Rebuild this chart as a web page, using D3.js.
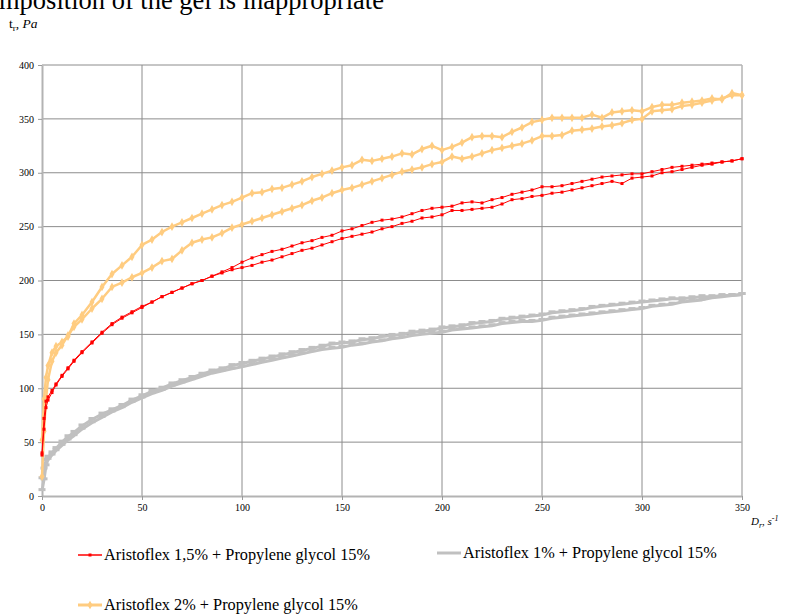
<!DOCTYPE html>
<html>
<head>
<meta charset="utf-8">
<script src="https://cdn.jsdelivr.net/npm/d3@7"></script>
<style>
  body { margin: 0; background: #fff; }
  svg { display: block; font-family: "Liberation Serif", "Times New Roman", serif; }
</style>
</head>
<body>
<svg id="chart" width="790" height="614"></svg>
<script>
// shear rate D_r, s^-1 (shared by every curve)
const shearRate = [0, 1, 2, 3, 5, 7, 10, 13, 16, 20, 25, 30, 35, 40, 45, 50, 55, 60, 65, 70, 75, 80, 85, 90, 95, 100,
  105, 110, 115, 120, 125, 130, 135, 140, 145, 150, 155, 160, 165, 170, 175, 180, 185, 190, 195, 200,
  205, 210, 215, 220, 225, 230, 235, 240, 245, 250, 255, 260, 265, 270, 275, 280, 285, 290, 295, 300,
  305, 310, 315, 320, 325, 330, 335, 340, 345, 350];

// shear stress, Pa — each series is a loop (upper branch + lower branch)
const red15Upper = [40, 72, 88, 92, 98, 104, 112, 119, 126, 134, 143, 152, 160, 166, 171, 176, 180, 185, 189, 193, 197, 200, 204, 208, 212, 217,
  221, 224, 227, 229, 232, 235, 237, 240, 242, 246, 248, 251, 254, 256, 257, 259, 262, 265, 267, 268,
  269, 272, 273, 272, 275, 277, 280, 282, 284, 287, 287, 288, 290, 292, 294, 296, 297, 298, 299, 299,
  301, 303, 305, 306, 307, 308, 309, 310, 311, 313];
const red15Lower = [38, 62, 82, 89, 96, 103, 111, 118, 125, 133, 142, 151, 159, 165, 170, 175, 180, 185, 189, 193, 197, 200, 204, 207, 210, 212,
  214, 217, 219, 222, 225, 228, 230, 233, 236, 239, 241, 243, 245, 248, 250, 253, 255, 258, 259, 261,
  265, 265, 266, 267, 268, 271, 275, 276, 278, 279, 281, 282, 284, 286, 288, 290, 292, 290, 295, 296,
  297, 300, 301, 303, 305, 307, 308, 310, 311, 313];

const gray1Upper = [16, 25, 33, 36, 40, 44, 50, 55, 59, 65, 71, 76, 80, 84, 89, 93, 97, 100, 104, 107, 110, 113, 116, 118, 121, 123,
  125, 127, 129, 131, 133, 135, 137, 139, 141, 142, 143, 145, 146, 148, 149, 150, 152, 153, 154, 156,
  157, 158, 160, 161, 162, 164, 165, 166, 167, 168, 170, 171, 172, 173, 175, 176, 177, 178, 179, 180,
  181, 182, 183, 183, 184, 185, 185, 186, 186, 187];
const gray1Lower = [5, 15, 28, 34, 38, 42, 47, 52, 56, 62, 68, 73, 78, 82, 87, 91, 95, 98, 102, 105, 108, 111, 114, 116, 118, 120,
  122, 124, 126, 128, 130, 132, 134, 136, 137, 138, 140, 141, 143, 144, 146, 147, 149, 150, 151, 152,
  154, 155, 156, 157, 158, 160, 161, 162, 162, 163, 165, 166, 167, 168, 169, 170, 171, 172, 173, 174,
  176, 177, 178, 180, 181, 182, 184, 185, 186, 187];

const orange2Upper = [52, 90, 110, 121, 133, 139, 143, 148, 160, 168, 180, 194, 206, 214, 222, 233, 238, 245, 250, 254, 258, 262, 266, 270, 273, 277,
  281, 282, 285, 286, 289, 292, 296, 299, 302, 305, 307, 312, 311, 313, 315, 318, 317, 322, 325, 321,
  324, 328, 333, 334, 334, 333, 338, 342, 347, 349, 351, 351, 351, 351, 354, 351, 356, 357, 358, 357,
  361, 363, 363, 365, 366, 367, 369, 368, 374, 372];
const orange2Lower = [18, 60, 90, 108, 125, 133, 140, 149, 157, 164, 174, 183, 194, 198, 203, 207, 212, 218, 220, 228, 235, 238, 240, 244, 249, 252,
  255, 258, 261, 264, 267, 270, 274, 277, 281, 284, 286, 289, 292, 295, 298, 301, 303, 305, 308, 310,
  315, 313, 315, 318, 321, 323, 325, 327, 330, 334, 334, 335, 339, 340, 341, 343, 344, 346, 349, 350,
  357, 358, 359, 362, 363, 365, 367, 369, 372, 372];

const xTicks = [0, 50, 100, 150, 200, 250, 300, 350];
const yTicks = [0, 50, 100, 150, 200, 250, 300, 350, 400];

const seriesNames = [
  "Aristoflex 1,5% + Propylene glycol 15%",
  "Aristoflex 1% + Propylene glycol 15%",
  "Aristoflex 2% + Propylene glycol 15%"
];

const svg = d3.select("#chart");
const margin = { left: 42, top: 65, right: 48, bottom: 118 };
const width = 790 - margin.left - margin.right;   // 700
const height = 614 - margin.top - margin.bottom;  // 431

const x = d3.scaleLinear().domain([0, 350]).range([0, width]);
const y = d3.scaleLinear().domain([0, 400]).range([height, 0]);

// title fragment cut off at the top
svg.append("text")
  .attr("x", -1).attr("y", 9)
  .style("font-size", "26.5px")
  .attr("fill", "#000")
  .text("mposition of the gel is inappropriate");

// y axis label
const yl = svg.append("text").attr("x", 9).attr("y", 27.5).style("font-size", "13.5px");
yl.append("tspan").text("t");
yl.append("tspan").attr("dy", 3).style("font-size", "9px").text("r");
yl.append("tspan").attr("dy", -3).text(", ");
yl.append("tspan").style("font-style", "italic").text("Pa");

const g = svg.append("g").attr("transform", `translate(${margin.left},${margin.top})`);

// grid
g.append("g").selectAll("line").data(yTicks.slice(1)).join("line")
  .attr("x1", 0).attr("x2", width)
  .attr("y1", d => y(d)).attr("y2", d => y(d))
  .attr("stroke", "#8c8c8c").attr("stroke-width", 1);
g.append("g").selectAll("line").data(xTicks.slice(1, -1)).join("line")
  .attr("y1", 0).attr("y2", height)
  .attr("x1", d => x(d)).attr("x2", d => x(d))
  .attr("stroke", "#8c8c8c").attr("stroke-width", 1);
// right border
g.append("line").attr("x1", width).attr("x2", width).attr("y1", 0).attr("y2", height)
  .attr("stroke", "#b3b3b3").attr("stroke-width", 1.5);

// axes
const xAxis = g.append("g").attr("transform", `translate(0,${height})`)
  .call(d3.axisBottom(x).tickValues(xTicks).tickSize(4).tickPadding(4).tickSizeOuter(0));
const yAxis = g.append("g")
  .call(d3.axisLeft(y).tickValues(yTicks).tickSize(4).tickPadding(4).tickSizeOuter(0));
[xAxis, yAxis].forEach(a => {
  a.select(".domain").attr("stroke", "#b3b3b3").attr("stroke-width", 2);
  a.selectAll(".tick line").attr("stroke", "#9a9a9a");
  a.selectAll(".tick text").attr("fill", "#000")
    .style("font-family", "'Liberation Serif', serif").style("font-size", "10px");
});

// x axis label
const xl = svg.append("text").attr("x", 751).attr("y", 525)
  .style("font-size", "11px").style("font-style", "italic");
xl.append("tspan").text("D");
xl.append("tspan").attr("dy", 3).style("font-size", "8px").text("r");
xl.append("tspan").attr("dy", -3).text(", s");
xl.append("tspan").attr("dy", -4).style("font-size", "8px").text("-1");

const line = d3.line().x(d => x(d[0])).y(d => y(d[1]));
const pairs = vals => shearRate.map((s, i) => [s, vals[i]]);

function drawSeries(branches, color, w, marker) {
  branches.forEach(vals => {
    const pts = pairs(vals);
    g.append("path").datum(pts)
      .attr("d", line).attr("fill", "none")
      .attr("stroke", color).attr("stroke-width", w).attr("stroke-linejoin", "round");
    marker(g.append("g"), pts);
  });
}

const squareMarker = (sel, pts) => sel.selectAll("rect").data(pts).join("rect")
  .attr("x", d => x(d[0]) - 1.5).attr("y", d => y(d[1]) - 1.5)
  .attr("width", 3).attr("height", 3).attr("fill", "#ff0000");
const dashMarker = (sel, pts) => sel.selectAll("rect").data(pts).join("rect")
  .attr("x", d => x(d[0]) - 3.5).attr("y", d => y(d[1]) - 2.5)
  .attr("width", 7).attr("height", 3).attr("fill", "#c0c0c0");
const diamondMarker = (sel, pts) => sel.selectAll("path").data(pts).join("path")
  .attr("d", d3.symbol(d3.symbolDiamond, 22))
  .attr("transform", d => `translate(${x(d[0])},${y(d[1])})`)
  .attr("fill", "#ffcc80");

drawSeries([gray1Lower, gray1Upper], "#c0c0c0", 3, dashMarker);
drawSeries([orange2Lower, orange2Upper], "#ffcc80", 2.5, diamondMarker);
drawSeries([red15Lower, red15Upper], "#ff0000", 1, squareMarker);

// legend
const legend = [
  { name: seriesNames[0], color: "#ff0000", w: 1.5, x: 78, y: 555, mark: "square" },
  { name: seriesNames[1], color: "#c0c0c0", w: 3, x: 437, y: 553, mark: "none" },
  { name: seriesNames[2], color: "#ffcc80", w: 3, x: 78, y: 605, mark: "diamond" }
];
legend.forEach(l => {
  const lg = svg.append("g").attr("transform", `translate(${l.x},${l.y})`);
  lg.append("line").attr("x1", 0).attr("x2", 24).attr("y1", 0).attr("y2", 0)
    .attr("stroke", l.color).attr("stroke-width", l.w);
  if (l.mark === "square") lg.append("rect").attr("x", 10.5).attr("y", -1.5).attr("width", 3).attr("height", 3).attr("fill", l.color);
  if (l.mark === "diamond") lg.append("path").attr("d", d3.symbol(d3.symbolDiamond, 22)).attr("transform", "translate(12,0)").attr("fill", l.color);
  lg.append("text").attr("x", 26).attr("y", 5).style("font-size", "16.3px").attr("fill", "#000").text(l.name);
});
</script>
</body>
</html>
